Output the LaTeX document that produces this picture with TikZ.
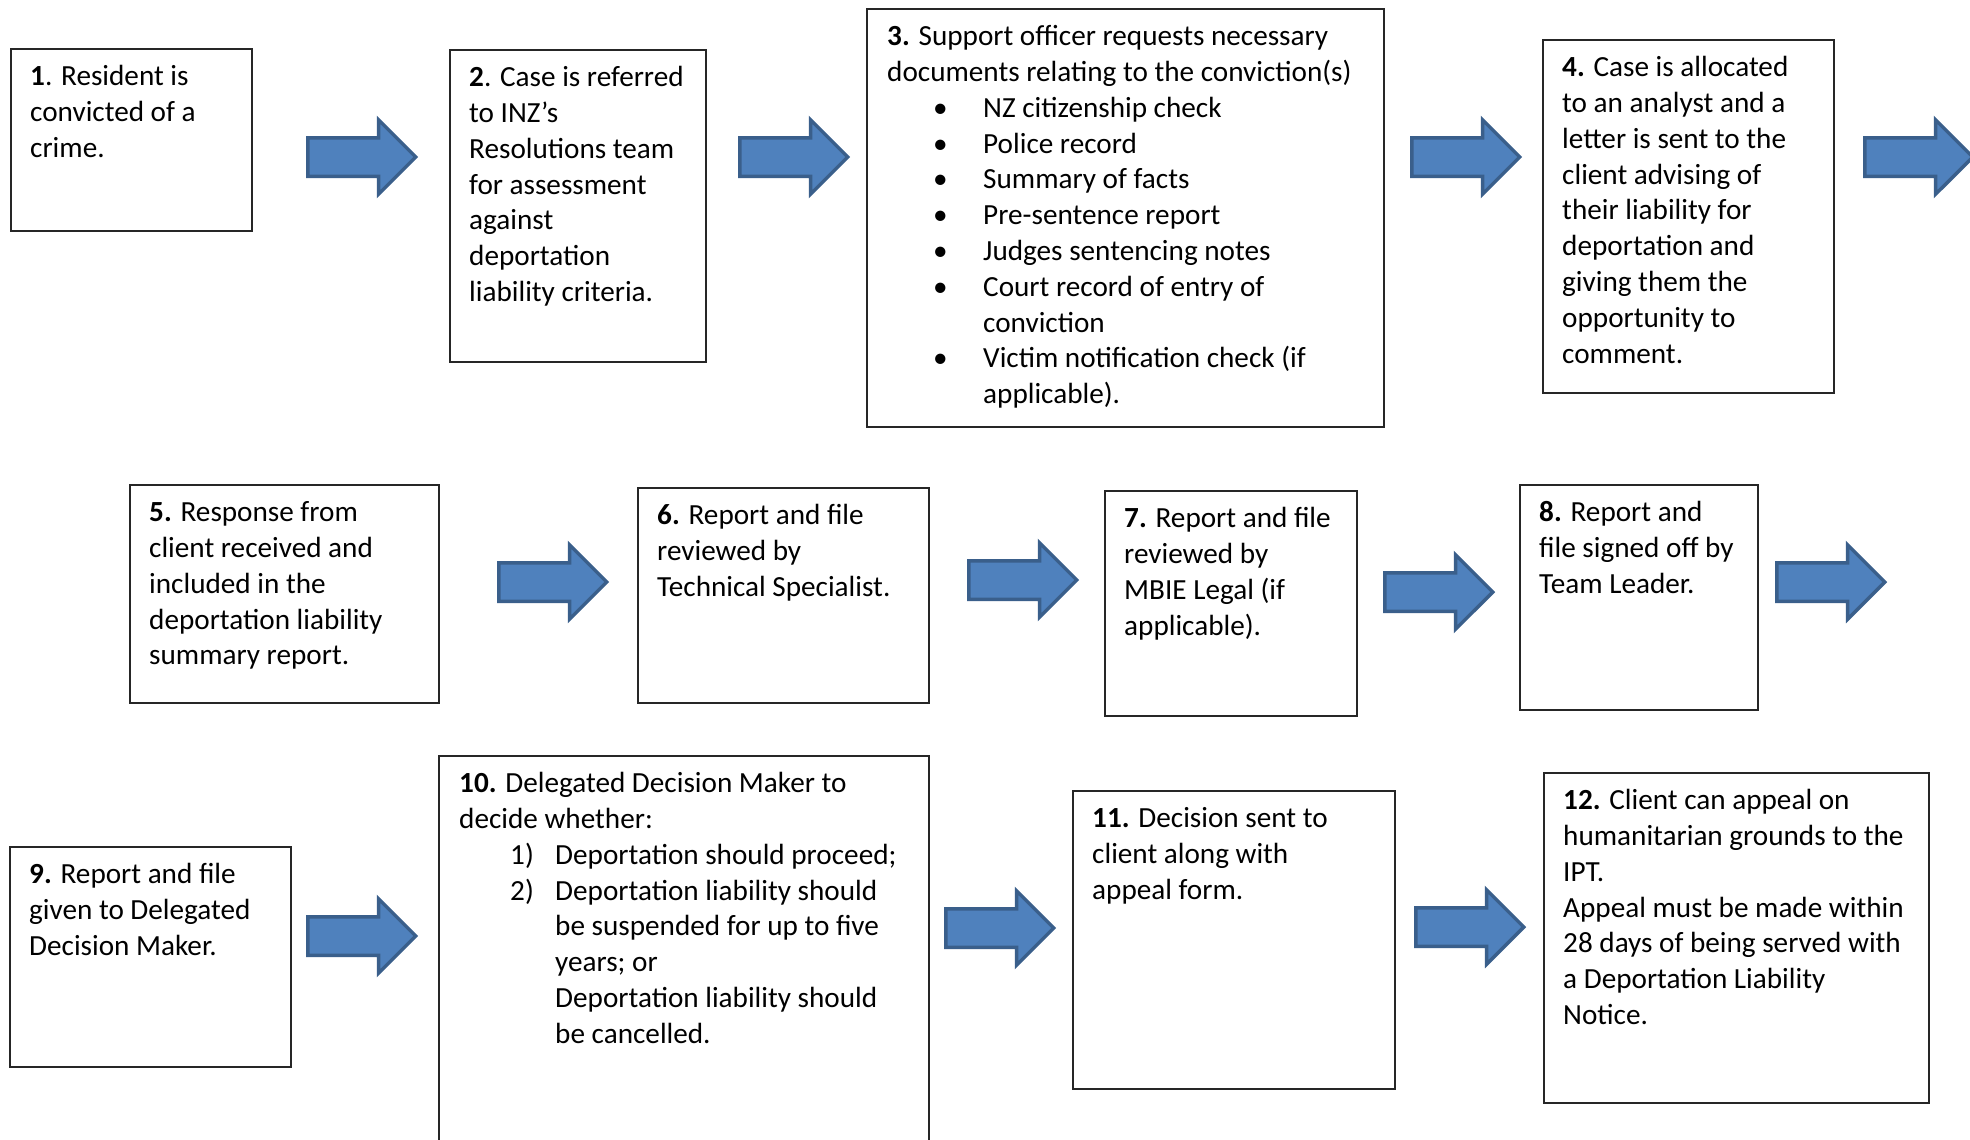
\documentclass[tikz,border=0pt]{standalone}
\usepackage{fontspec}
\setmainfont{Carlito}
\usetikzlibrary{calc, shapes.arrows}

\definecolor{arrowfill}{HTML}{4F81BD}
\definecolor{arrowline}{HTML}{3A5F8B}

\tikzset{
  stepbox/.style={draw=black!85, line width=1.6pt, anchor=north west, inner sep=0pt},
  steptext/.style={anchor=north west, align=left, inner sep=0pt, font=\fontsize{29.2}{35.8}\selectfont},
  blockarrow/.style={single arrow, draw=arrowline, fill=arrowfill, line width=3.5pt,
    single arrow head extend=18pt, single arrow tip angle=90,
    minimum height=108pt, minimum width=71pt, inner xsep=0pt, inner ysep=17.5pt, anchor=tail},
}

\newcommand\bul[1]{\hspace*{46pt}\makebox[50pt][l]{\textbullet}#1}
\newcommand\subline[1]{\hspace*{96pt}#1}
\newcommand\numitem[2]{\hspace*{51pt}\makebox[45pt][l]{#1}#2}

\begin{document}
\begin{tikzpicture}[x=1pt, y=-1pt]
        \fill[white] (0,0) rectangle (1970,1140);
        \clip (0,0) rectangle (1970,1140);

        % first row
        \node[stepbox, minimum width=241, minimum height=182] (s1) at (10,48) {};
        \node[steptext] (t1) at ($(s1.north west)+(20,12.5)$)
            {\strut\textbf{1}. Resident is\\convicted of a\\crime.};

        \node[stepbox, minimum width=256, minimum height=312] (s2) at (449,49) {};
        \node[steptext] (t2) at ($(s2.north west)+(20,12.5)$)
            {\strut\textbf{2}. Case is referred\\to INZ’s\\Resolutions team\\for assessment\\against\\deportation\\liability criteria.};

        \node[stepbox, minimum width=517, minimum height=418] (s3) at (866,8) {};
        \node[steptext] (t3) at ($(s3.north west)+(21,12.5)$)
            {\strut\textbf{3.} Support officer requests necessary\\documents relating to the conviction(s)\\
             \bul{NZ citizenship check}\\\bul{Police record}\\\bul{Summary of facts}\\
             \bul{Pre-sentence report}\\\bul{Judges sentencing notes}\\
             \bul{Court record of entry of}\\\subline{conviction}\\
             \bul{Victim notification check (if}\\\subline{applicable).}};

        \node[stepbox, minimum width=291, minimum height=353] (s4) at (1542,39) {};
        \node[steptext] (t4) at ($(s4.north west)+(20,12.5)$)
            {\strut\textbf{4.} Case is allocated\\to an analyst and a\\letter is sent to the\\client advising of\\their liability for\\deportation and\\giving them the\\opportunity to\\comment.};

        % second row
        \node[stepbox, minimum width=309, minimum height=218] (s5) at (129,484) {};
        \node[steptext] (t5) at ($(s5.north west)+(20,12.5)$)
            {\strut\textbf{5.} Response from\\client received and\\included in the\\deportation liability\\summary report.};

        \node[stepbox, minimum width=291, minimum height=215] (s6) at (637,487) {};
        \node[steptext] (t6) at ($(s6.north west)+(20,12.5)$)
            {\strut\textbf{6.} Report and file\\reviewed by\\Technical Specialist.};

        \node[stepbox, minimum width=252, minimum height=225] (s7) at (1104,490) {};
        \node[steptext] (t7) at ($(s7.north west)+(20,12.5)$)
            {\strut\textbf{7.} Report and file\\reviewed by\\MBIE Legal (if\\applicable).};

        \node[stepbox, minimum width=238, minimum height=225] (s8) at (1519,484) {};
        \node[steptext] (t8) at ($(s8.north west)+(20,12.5)$)
            {\strut\textbf{8.} Report and\\file signed off by\\Team Leader.};

        % third row
        \node[stepbox, minimum width=281, minimum height=220] (s9) at (9,846) {};
        \node[steptext] (t9) at ($(s9.north west)+(20,12.5)$)
            {\strut\textbf{9.} Report and file\\given to Delegated\\Decision Maker.};

        \node[stepbox, minimum width=490, minimum height=420] (s10) at (438,755) {};
        \node[steptext] (t10) at ($(s10.north west)+(21,12.5)$)
            {\strut\textbf{10.} Delegated Decision Maker to\\decide whether:\\
             \numitem{1)}{Deportation should proceed;}\\
             \numitem{2)}{Deportation liability should}\\\subline{be suspended for up to five}\\\subline{years; or}\\
             \subline{Deportation liability should}\\\subline{be cancelled.}};

        \node[stepbox, minimum width=322, minimum height=298] (s11) at (1072,790) {};
        \node[steptext] (t11) at ($(s11.north west)+(20,12.5)$)
            {\strut\textbf{11.} Decision sent to\\client along with\\appeal form.};

        \node[stepbox, minimum width=385, minimum height=330] (s12) at (1543,772) {};
        \node[steptext] (t12) at ($(s12.north west)+(20,12.5)$)
            {\strut\textbf{12.} Client can appeal on\\humanitarian grounds to the\\IPT.\\Appeal must be made within\\28 days of being served with\\a Deportation Liability\\Notice.};

        % block arrows
        \node[blockarrow] (a1) at (306,157) {};
        \node[blockarrow] (a2) at (738,157) {};
        \node[blockarrow] (a3) at (1410,157) {};
        \node[blockarrow] (a4) at (1863,157) {};
        \node[blockarrow] (a5) at (497,582) {};
        \node[blockarrow] (a6) at (967,580) {};
        \node[blockarrow] (a7) at (1383,592) {};
        \node[blockarrow] (a8) at (1775,582) {};
        \node[blockarrow] (a9) at (306,936) {};
        \node[blockarrow] (a10) at (944,928) {};
        \node[blockarrow] (a11) at (1414,927) {};
\end{tikzpicture}
\end{document}
